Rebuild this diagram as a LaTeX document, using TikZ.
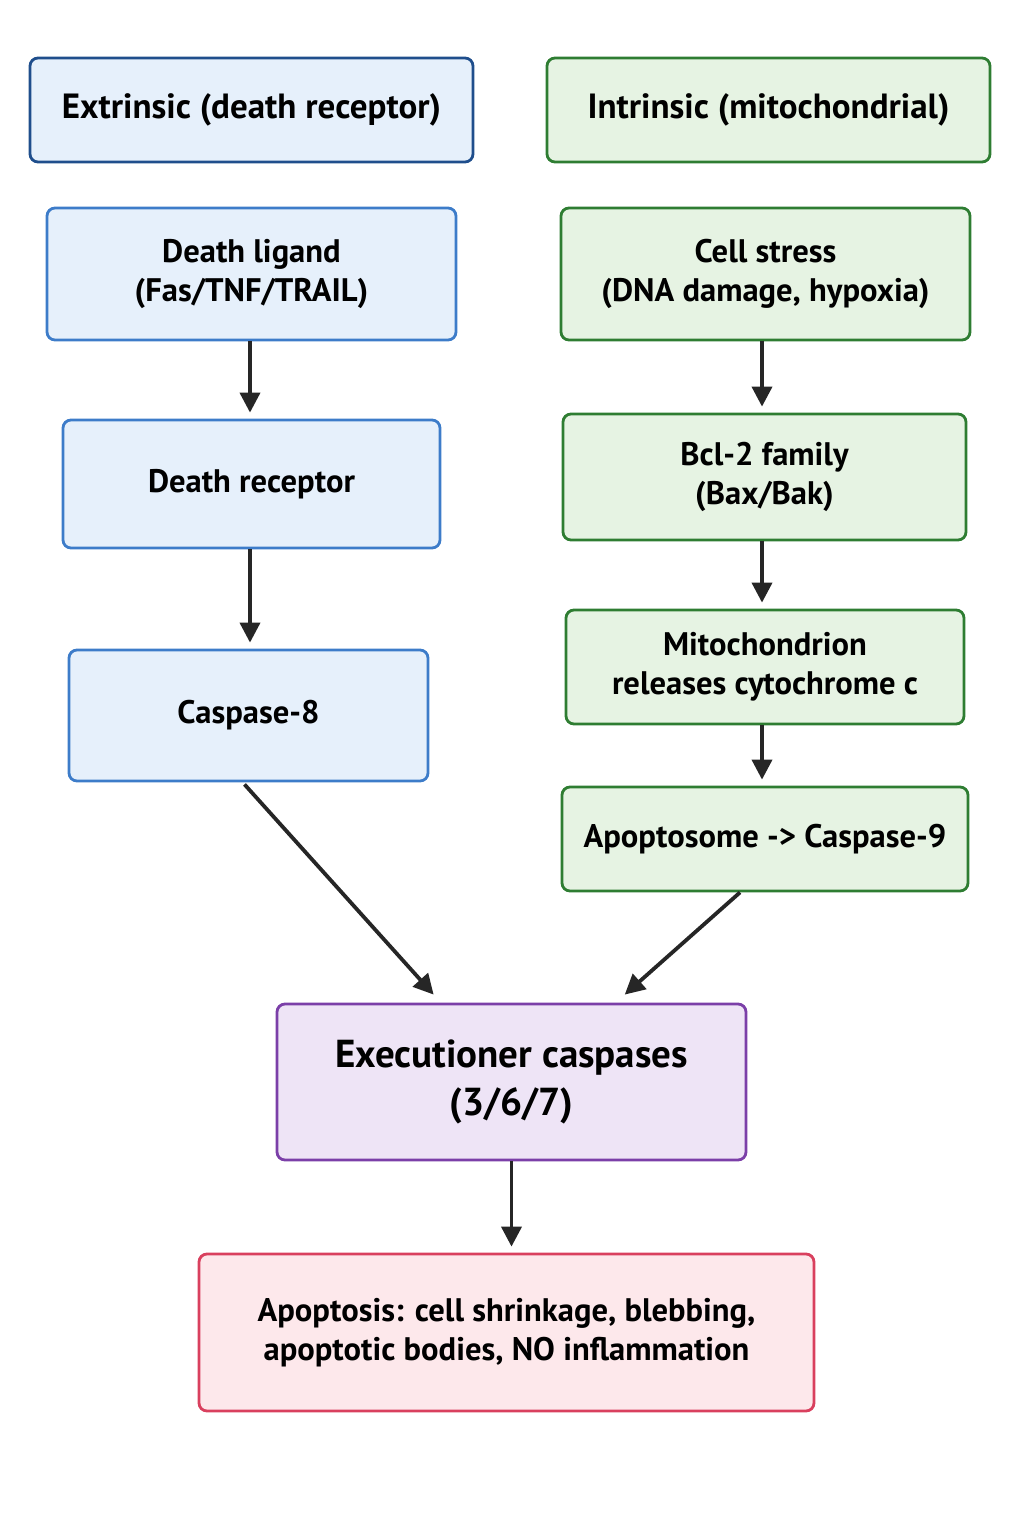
\documentclass[tikz,border=0pt]{standalone}
\usepackage{fontspec}
\setmainfont{PT Sans}
\usetikzlibrary{calc,arrows.meta}
\definecolor{bluedark}{HTML}{1F4E8C}
\definecolor{bluemid}{HTML}{3D7CC9}
\definecolor{bluefill}{HTML}{E6F0FB}
\definecolor{greendark}{HTML}{2E7D32}
\definecolor{greenfill}{HTML}{E6F3E3}
\definecolor{purpledark}{HTML}{7B3FA8}
\definecolor{purplefill}{HTML}{EEE4F6}
\definecolor{reddark}{HTML}{D9405E}
\definecolor{redfill}{HTML}{FDE8EB}
\tikzset{
  box/.style={draw, rounded corners=4pt, line width=1.4pt, align=center,
    inner sep=0pt, font=\bfseries\fontsize{16.3}{19.5}\selectfont},
  ext/.style={box, draw=bluemid, fill=bluefill},
  intr/.style={box, draw=greendark, fill=greenfill},
  arr/.style={-{Triangle[length=10pt,width=10pt]}, line width=1.9pt, black!85},
}
\begin{document}
\begin{tikzpicture}[x=0.5pt, y=-0.5pt]
  \useasboundingbox (0,0) rectangle (1024,1536);
  % headers
  \node[ext, draw=bluedark, minimum width=221.5pt, minimum height=52pt,
    font=\bfseries\fontsize{17.5}{21}\selectfont] (exthead) at (251.5,110) {Extrinsic (death receptor)};
  \node[intr, minimum width=221.5pt, minimum height=52pt,
    font=\bfseries\fontsize{17.5}{21}\selectfont] (inthead) at (768.5,110) {Intrinsic (mitochondrial)};
  % extrinsic pathway
  \node[ext, minimum width=204.5pt, minimum height=66pt] (ligand) at (251.5,274) {Death ligand\\(Fas/TNF/TRAIL)};
  \node[ext, minimum width=188.5pt, minimum height=64pt] (receptor) at (251.5,484) {Death receptor};
  \node[ext, minimum width=179.5pt, minimum height=65.5pt] (casp8) at (248.5,715.5) {Caspase-8};
  % intrinsic pathway
  \node[intr, minimum width=204.5pt, minimum height=66pt] (stress) at (765.5,274) {Cell stress\\(DNA damage, hypoxia)};
  \node[intr, minimum width=201.5pt, minimum height=63pt] (bcl) at (764.5,477) {Bcl-2 family\\(Bax/Bak)};
  \node[intr, minimum width=199pt, minimum height=57pt] (mito) at (765,667) {Mitochondrion\\releases cytochrome c};
  \node[intr, minimum width=203pt, minimum height=52pt] (apopt) at (765,839) {Apoptosome -> Caspase-9};
  % common pathway
  \node[box, draw=purpledark, fill=purplefill, minimum width=234.5pt, minimum height=78pt,
    font=\bfseries\fontsize{19.5}{24}\selectfont] (exec) at (511.5,1082) {Executioner caspases\\(3/6/7)};
  \node[box, draw=reddark, fill=redfill, minimum width=307.5pt, minimum height=78.5pt] (death) at (506.5,1332.5)
    {Apoptosis: cell shrinkage, blebbing,\\apoptotic bodies, NO inflammation};
  % arrows
  \draw[arr] (ligand.south -| 250,0) -- ($(receptor.north -| 250,0)+(0,-6)$);
  \draw[arr] (receptor.south -| 250,0) -- ($(casp8.north -| 250,0)+(0,-6)$);
  \draw[arr] (stress.south -| 762,0) -- ($(bcl.north -| 762,0)+(0,-6)$);
  \draw[arr] (bcl.south -| 762,0) -- ($(mito.north -| 762,0)+(0,-6)$);
  \draw[arr] (mito.south -| 762,0) -- ($(apopt.north -| 762,0)+(0,-6)$);
  \draw[arr] ($(casp8.south)+(-4,2)$) -- ($(exec.north west)!0.335!(exec.north east)+(0,-8)$);
  \draw[arr] ($(apopt.south)+(-25,0)$) -- ($(exec.north west)!0.74!(exec.north east)+(0,-8)$);
  \draw[arr] (exec.south) -- ($(death.north -| exec.south)+(0,-6)$);
\end{tikzpicture}
\end{document}
